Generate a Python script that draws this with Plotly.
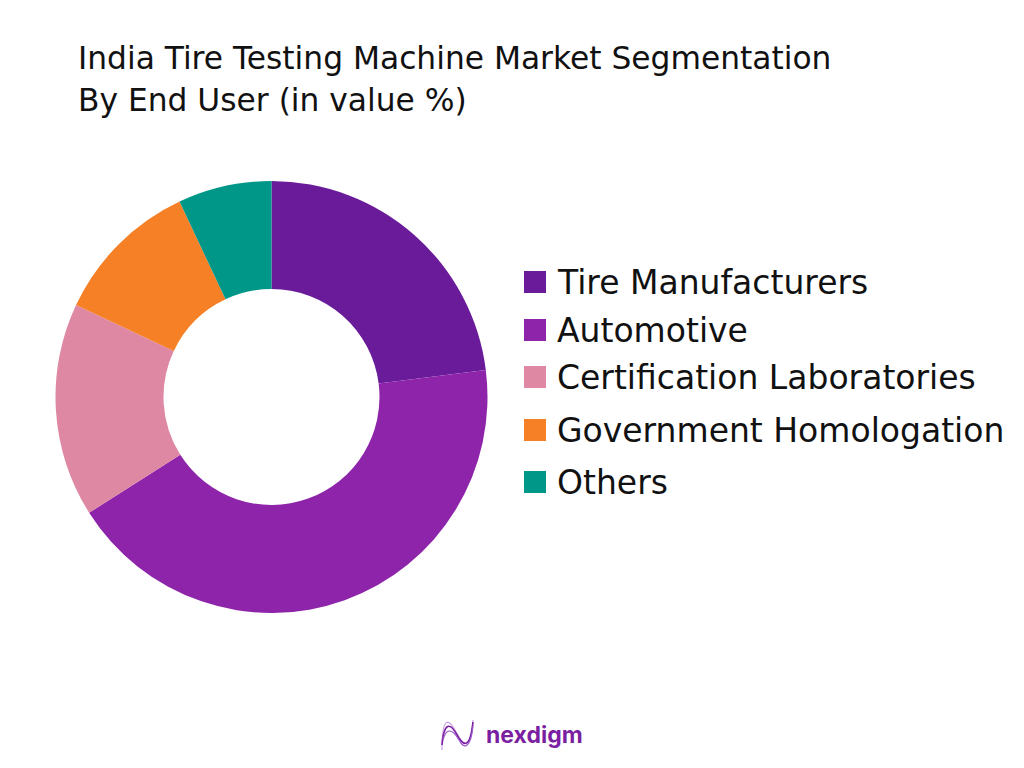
import plotly.graph_objects as go

categories = ["Tire Manufacturers", "Automotive", "Certification Laboratories", "Government Homologation", "Others"]
values = [23, 43, 16, 11, 7]
colors = ["#6A1B9A", "#8E24AA", "#DE88A3", "#F58025", "#009688"]
title_lines = ["India Tire Testing Machine Market Segmentation", "By End User (in value %)"]
legend_rows = [282, 330, 377, 430, 482]

W, H = 1024, 768
FONT = "DejaVu Sans"

def px(x):
    return x / W

def py(y):
    return 1 - y / H

fig = go.Figure(go.Pie(
    labels=categories, values=values, hole=0.5, sort=False, direction="clockwise",
    rotation=0, marker=dict(colors=colors, line=dict(width=0)), textinfo="none",
    hoverinfo="label+percent", showlegend=False,
    domain=dict(x=[px(55.5), px(487.5)], y=[py(613), py(181)]),
))

annotations = []
shapes = []
for i, t in enumerate(title_lines):
    annotations.append(dict(x=px(76), y=py([58, 100][i]), xref="paper", yref="paper", text=t,
                            showarrow=False, xanchor="left", yanchor="middle",
                            font=dict(family=FONT, size=31.3, color="#111111")))
for name, col, row in zip(categories, colors, legend_rows):
    shapes.append(dict(type="rect", xref="paper", yref="paper", x0=px(524), x1=px(546),
                       y0=py(row - 11), y1=py(row + 11), fillcolor=col, line=dict(width=0)))
    annotations.append(dict(x=px(555), y=py(row), xref="paper", yref="paper", text=name,
                            showarrow=False, xanchor="left", yanchor="middle",
                            font=dict(family=FONT, size=33, color="#111111")))

annotations.append(dict(x=px(484), y=py(735), xref="paper", yref="paper", text="<b>nexdigm</b>",
                        showarrow=False, xanchor="left", yanchor="middle",
                        font=dict(family="Inter", size=23, color="#7B1FA2")))

def curve(pts):
    s = f"M {px(pts[0][0])},{py(pts[0][1])}"
    for i in range(1, len(pts), 3):
        a, b, c = pts[i:i + 3]
        s += f" C {px(a[0])},{py(a[1])} {px(b[0])},{py(b[1])} {px(c[0])},{py(c[1])}"
    return s

logo = [
    ([(442, 750), (442, 720), (447, 716), (455, 730), (463, 745), (470, 755), (473, 720)], "#C9A6E4", 1.2),
    ([(442, 745), (444, 722), (450, 722), (457, 735), (463, 746), (470, 750), (473, 722)], "#7B1FA2", 1.6),
    ([(443, 740), (446, 728), (452, 728), (459, 740), (464, 750), (471, 748), (473, 726)], "#9C5BC9", 1.2),
]
for pts, col, w in logo:
    shapes.append(dict(type="path", xref="paper", yref="paper", path=curve(pts),
                       line=dict(color=col, width=w)))

fig.update_layout(width=W, height=H, margin=dict(l=0, r=0, t=0, b=0), paper_bgcolor="white",
                  plot_bgcolor="white", annotations=annotations, shapes=shapes, showlegend=False)
fig.write_html("out.html", config=dict(displayModeBar=False),
               post_script="document.body.style.margin='0';document.documentElement.style.overflow='hidden';")
